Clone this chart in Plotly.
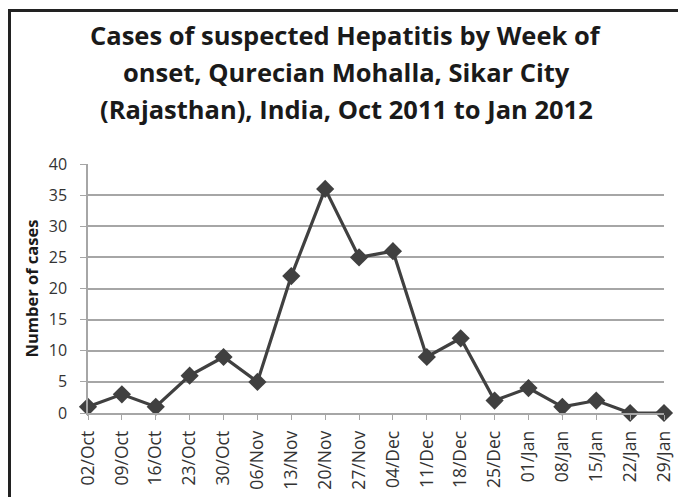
import plotly.graph_objects as go

weeks = ["02/Oct", "09/Oct", "16/Oct", "23/Oct", "30/Oct", "06/Nov", "13/Nov", "20/Nov", "27/Nov",
         "04/Dec", "11/Dec", "18/Dec", "25/Dec", "01/Jan", "08/Jan", "15/Jan", "22/Jan", "29/Jan"]
cases = [1, 3, 1, 6, 9, 5, 22, 36, 25, 26, 9, 12, 2, 4, 1, 2, 0, 0]
y_ticks = [0, 5, 10, 15, 20, 25, 30, 35, 40]
title_lines = ["Cases of suspected Hepatitis by Week of",
               "onset, Qurecian Mohalla, Sikar City",
               "(Rajasthan), India, Oct 2011 to Jan 2012"]

x_idx = list(range(len(weeks)))

W, H = 678, 497
L, R, T, B = 88, 14, 164, 84
ph = H - T - B
pw = W - L - R

fig = go.Figure()
fig.add_trace(go.Scatter(
    x=x_idx, y=cases, mode="lines+markers",
    line=dict(color="#404040", width=3.2),
    marker=dict(symbol="diamond", size=14, color="#404040"),
    cliponaxis=False, showlegend=False,
))

title_centers = [35, 72, 109]
annotations = []
for txt, yc in zip(title_lines, title_centers):
    annotations.append(dict(
        text=txt, xref="paper", yref="paper",
        x=(346 - L) / pw, y=1 + (T - yc) / ph,
        xanchor="center", yanchor="middle", showarrow=False,
        font=dict(family="Open Sans", size=25.5, color="#1a1a1a", weight="bold"),
    ))

fig.update_layout(
    width=W, height=H,
    margin=dict(l=L, r=R, t=T, b=B, autoexpand=False),
    paper_bgcolor="white", plot_bgcolor="white",
    annotations=annotations,
    xaxis=dict(
        tickmode="array", tickvals=x_idx, ticktext=weeks,
        range=[0, len(weeks) - 1], tickangle=-90, automargin=False,
        showgrid=False, showline=True, linecolor="#a6a6a6", linewidth=1.5,
        ticks="outside", ticklen=5, tickcolor="#a6a6a6", ticklabelstandoff=4,
        tickfont=dict(family="Open Sans", size=17.5, color="#333333"),
        zeroline=False,
    ),
    yaxis=dict(
        range=[0, 40], tickvals=y_ticks, automargin=False,
        showgrid=True, gridcolor="#a6a6a6", gridwidth=1.5,
        showline=True, linecolor="#a6a6a6", linewidth=1.5,
        ticks="outside", ticklen=6, tickcolor="#a6a6a6", ticklabelstandoff=10,
        tickfont=dict(family="Open Sans", size=16, color="#333333"),
        title=dict(text="Number of cases", font=dict(family="Open Sans", size=16.5, color="#1a1a1a", weight="bold"), standoff=6),
        zeroline=False,
    ),
    shapes=[
        dict(type="line", xref="paper", yref="paper", xsizemode="pixel", ysizemode="pixel",
             xanchor=0, yanchor=0, x0=9.5 - L, x1=9.5 - L, y0=-120, y1=(H - B) - 9,
             line=dict(color="#222222", width=3), layer="above"),
        dict(type="line", xref="paper", yref="paper", xsizemode="pixel", ysizemode="pixel",
             xanchor=0, yanchor=0, x0=8 - L, x1=W - L + 20, y0=(H - B) - 10.5, y1=(H - B) - 10.5,
             line=dict(color="#222222", width=3), layer="above"),
    ],
)

fig.write_html("out.html")
